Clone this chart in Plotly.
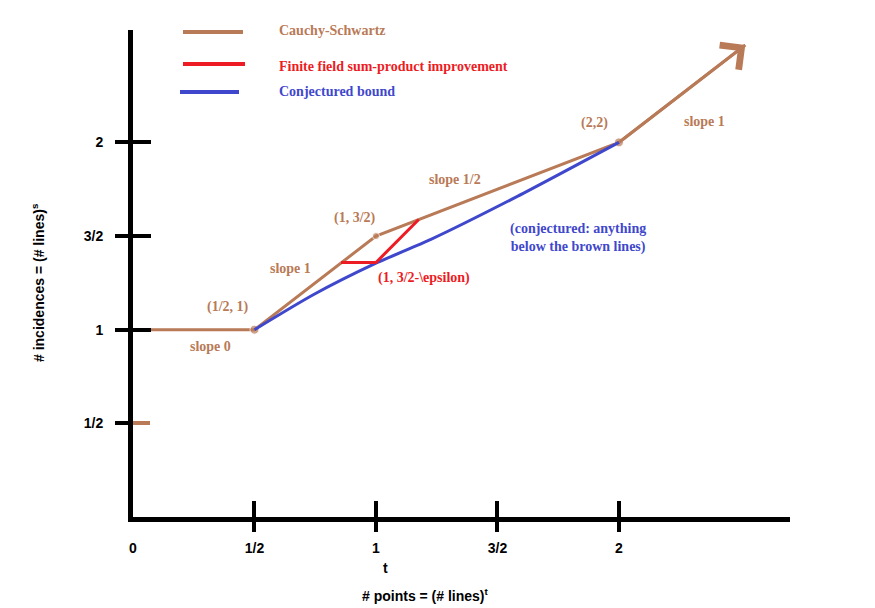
import plotly.graph_objects as go

# ---- data ----
x_ticks = [0, 0.5, 1, 1.5, 2]
x_tick_labels = ["0", "1/2", "1", "3/2", "2"]
x_mark_ticks = [0.5, 1, 1.5, 2]
y_ticks = [0.5, 1, 1.5, 2]
y_tick_labels = ["1/2", "1", "3/2", "2"]

cs_x = [0, 0.5, 1, 2, 2.52]          # Cauchy-Schwartz (brown)
cs_y = [1, 1, 1.5, 2, 2.52]
cs_marker = [0, 9, 7, 9, 0]

ff_x = [0.856, 1.0, 1.176]           # finite field improvement (red)
ff_y = [1.359, 1.359, 1.588]

cb_x = [0.5, 0.74, 1.0, 1.226, 1.584, 2.0]   # conjectured bound (blue)
cb_y = [1.0, 1.185, 1.355, 1.482, 1.713, 2.0]

BROWN = "#B97A57"
RED = "#ED1C24"
BLUE = "#3F48CC"

X_RANGE = [0, 2.704]
Y_RANGE = [0, 2.600]

# page body has an 8px margin; the figure is sized so the plot area lands
# at x 133..790, y 30..517 in the window
OFF = 8
W, H = 875 - OFF, 608 - OFF
ML, MR, MT, MB = 133 - OFF, 85, 30 - OFF, 91

SERIF = dict(family="Liberation Serif", size=14, weight="bold")
SANS = dict(family="Liberation Sans", size=14, weight="bold", color="black")

fig = go.Figure()
fig.add_trace(go.Scatter(x=cs_x, y=cs_y, mode="lines+markers",
                         line=dict(color=BROWN, width=3),
                         marker=dict(color=BROWN, size=cs_marker, symbol="circle"),
                         name="Cauchy-Schwartz", hoverinfo="skip"))
fig.add_trace(go.Scatter(x=cb_x, y=cb_y, mode="lines",
                         line=dict(color=BLUE, width=3, shape="spline", smoothing=0.6),
                         name="Conjectured bound", hoverinfo="skip"))
fig.add_trace(go.Scatter(x=ff_x, y=ff_y, mode="lines",
                         line=dict(color=RED, width=3),
                         name="Finite field sum-product improvement", hoverinfo="skip"))
# empty traces to keep the overlay axes alive
fig.add_trace(go.Scatter(x=[], y=[], xaxis="x2", yaxis="y2", showlegend=False))
fig.add_trace(go.Scatter(x=[], y=[], xaxis="x2", yaxis="y3", showlegend=False))
fig.add_trace(go.Scatter(x=[], y=[], xaxis="x2", yaxis="y4", showlegend=False))
fig.add_trace(go.Scatter(x=[], y=[], xaxis="x3", yaxis="y", showlegend=False))

# arrow head on the slope-1 segment
fig.add_annotation(x=cs_x[-1], y=cs_y[-1], ax=cs_x[-2], ay=cs_y[-2],
                   xref="x", yref="y", axref="x", ayref="y", text="",
                   showarrow=True, arrowhead=4, arrowsize=2.0, arrowwidth=3,
                   arrowcolor=BROWN)

# labels along the curves
labels = [
    ("(1/2, 1)", 0.392, 1.12, BROWN),
    ("slope 0", 0.32, 0.908, BROWN),
    ("slope 1", 0.648, 1.326, BROWN),
    ("(1, 3/2)", 0.912, 1.598, BROWN),
    ("slope 1/2", 1.326, 1.80, BROWN),
    ("(2,2)", 1.90, 2.105, BROWN),
    ("slope 1", 2.354, 2.11, BROWN),
    ("(1, 3/2-\\epsilon)", 1.197, 1.277, RED),
    ("(conjectured: anything<br>below the brown lines)", 1.83, 1.49, BLUE),
]
for txt, lx, ly, col in labels:
    fig.add_annotation(x=lx, y=ly, xref="x", yref="y", text=txt, showarrow=False,
                       font=dict(SERIF, color=col), xanchor="center", yanchor="middle")

# legend drawn by hand (window pixel -> paper)
def px(p):
    return (p - 133) / 657.0

def py(p):
    return (517 - p) / 487.0

legend = [
    ("Cauchy-Schwartz", BROWN, 183, 243, 32, 30),
    ("Finite field sum-product improvement", RED, 183, 245, 64, 67),
    ("Conjectured bound", BLUE, 180, 239, 92, 91),
]
for txt, col, x0, x1, yl, yt in legend:
    fig.add_shape(type="line", xref="paper", yref="paper",
                  x0=px(x0), x1=px(x1), y0=py(yl), y1=py(yl),
                  line=dict(color=col, width=4))
    fig.add_annotation(x=px(277), y=py(yt), xref="paper", yref="paper", text=txt,
                       showarrow=False, xanchor="left", yanchor="middle",
                       font=dict(SERIF, color=col))

# axis titles
fig.add_annotation(x=px(385), y=py(568), xref="paper", yref="paper", text="t",
                   showarrow=False, font=SANS, xanchor="center", yanchor="middle")
fig.add_annotation(x=px(425), y=py(595), xref="paper", yref="paper",
                   text="# points = (# lines)<sup>t</sup>", showarrow=False, font=SANS,
                   xanchor="center", yanchor="middle")
fig.add_annotation(x=px(38), y=py(283), xref="paper", yref="paper",
                   text="# incidences = (# lines)<sup>s</sup>", textangle=-90,
                   showarrow=False, font=SANS, xanchor="center", yanchor="middle")

common = dict(showgrid=False, zeroline=False, fixedrange=True)
fig.update_layout(
    width=W, height=H,
    margin=dict(l=ML, r=MR, t=MT, b=MB),
    paper_bgcolor="white", plot_bgcolor="white",
    showlegend=False,
    xaxis=dict(range=X_RANGE, showline=True, linecolor="black", linewidth=5,
               tickmode="array", tickvals=x_ticks, ticktext=x_tick_labels,
               ticks="", tickfont=SANS, ticklabelstandoff=14, **common),
    xaxis2=dict(range=X_RANGE, overlaying="x", anchor="y", side="bottom",
                tickmode="array", tickvals=x_mark_ticks, ticks="outside",
                ticklen=14, tickwidth=4, tickcolor="black", showticklabels=False,
                showline=False, **common),
    xaxis3=dict(range=X_RANGE, overlaying="x", anchor="y", side="bottom",
                tickmode="array", tickvals=x_mark_ticks, ticks="inside",
                ticklen=16, tickwidth=4, tickcolor="black",
                showticklabels=False, showline=False, **common),
    yaxis=dict(range=Y_RANGE, showline=True, linecolor="black", linewidth=5,
               tickmode="array", tickvals=y_ticks, ticktext=y_tick_labels,
               ticks="", tickfont=SANS, ticklabelstandoff=22, **common),
    yaxis2=dict(range=Y_RANGE, overlaying="y", anchor="x2", side="left",
                tickmode="array", tickvals=y_ticks, ticks="outside",
                ticklen=17, tickwidth=4, tickcolor="black", showticklabels=False,
                showline=False, **common),
    yaxis3=dict(range=Y_RANGE, overlaying="y", anchor="x2", side="left",
                tickmode="array", tickvals=[1, 1.5, 2], ticks="inside",
                ticklen=18, tickwidth=4, tickcolor="black", showticklabels=False,
                showline=False, **common),
    yaxis4=dict(range=Y_RANGE, overlaying="y", anchor="x2", side="left",
                tickmode="array", tickvals=[0.5], ticks="inside",
                ticklen=17, tickwidth=4, tickcolor=BROWN, showticklabels=False,
                showline=False, **common),
)

fig.write_html("out.html")
